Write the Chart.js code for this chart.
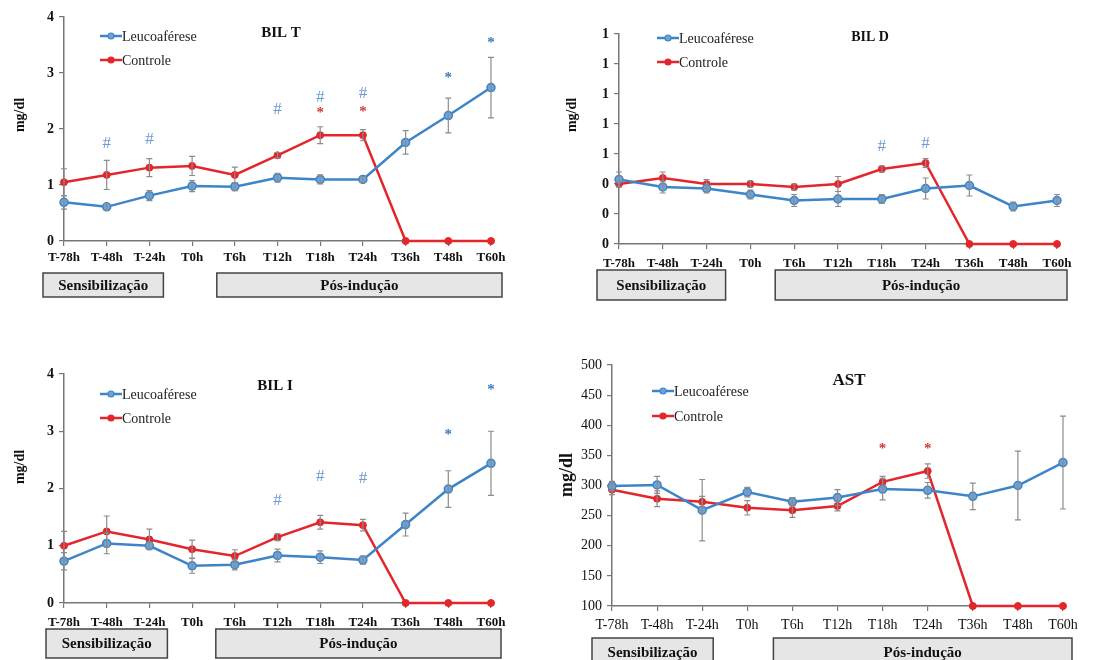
<!DOCTYPE html>
<html>
<head>
<meta charset="utf-8">
<script src="https://cdn.jsdelivr.net/npm/chart.js@4"></script>
<style>
  body { margin: 0; background: #fff; }
  #wrap { position: relative; width: 1110px; height: 660px; overflow: hidden; }
  canvas { position: absolute; }
</style>
</head>
<body>
<div id="wrap">
  <canvas id="bilT" width="555" height="310" style="left:0;top:0"></canvas>
  <canvas id="bilD" width="555" height="310" style="left:555px;top:0"></canvas>
  <canvas id="bilI" width="555" height="330" style="left:0;top:330px"></canvas>
  <canvas id="ast" width="555" height="330" style="left:555px;top:330px"></canvas>
</div>
<script>
const timepoints = ["T-78h", "T-48h", "T-24h", "T0h", "T6h", "T12h", "T18h", "T24h", "T36h", "T48h", "T60h"];
const phaseLabels = ["Sensibilização", "Pós-indução"];

// BIL T
const bilTLeuco = [0.69, 0.61, 0.81, 0.98, 0.97, 1.13, 1.10, 1.10, 1.76, 2.24, 2.74];
const bilTLeucoErr = [0.12, 0.06, 0.09, 0.10, 0.07, 0.08, 0.08, 0.05, 0.21, 0.31, 0.54];
const bilTCtrl = [1.05, 1.18, 1.31, 1.34, 1.18, 1.53, 1.89, 1.89, 0, 0, 0];
const bilTCtrlErr = [0.24, 0.26, 0.16, 0.17, 0.14, 0.05, 0.15, 0.10, 0, 0, 0];
const bilTHash = [null, 1.74, 1.81, null, null, 2.34, 2.57, 2.63, null, null, null];
const bilTRedStar = [null, null, null, null, null, null, 2.28, 2.31, null, null, null];
const bilTBlueStar = [null, null, null, null, null, null, null, null, null, 2.9, 3.53];

// BIL D
const bilDLeuco = [0.43, 0.38, 0.37, 0.33, 0.29, 0.30, 0.30, 0.37, 0.39, 0.25, 0.29];
const bilDLeucoErr = [0.05, 0.04, 0.03, 0.03, 0.04, 0.05, 0.03, 0.07, 0.07, 0.03, 0.04];
const bilDCtrl = [0.40, 0.44, 0.40, 0.40, 0.38, 0.40, 0.50, 0.54, 0, 0, 0];
const bilDCtrlErr = [0.02, 0.04, 0.03, 0.02, 0.02, 0.05, 0.02, 0.03, 0, 0, 0];
const bilDHash = [null, null, null, null, null, null, 0.65, 0.67, null, null, null];

// BIL I
const bilILeuco = [0.73, 1.04, 1.00, 0.65, 0.67, 0.83, 0.80, 0.75, 1.37, 1.99, 2.44];
const bilILeucoErr = [0.15, 0.18, 0.06, 0.13, 0.09, 0.11, 0.11, 0.07, 0.20, 0.32, 0.56];
const bilICtrl = [1.00, 1.25, 1.11, 0.94, 0.82, 1.15, 1.41, 1.36, 0, 0, 0];
const bilICtrlErr = [0.25, 0.27, 0.18, 0.16, 0.11, 0.06, 0.12, 0.10, 0, 0, 0];
const bilIHash = [null, null, null, null, null, 1.79, 2.21, 2.17, null, null, null];
const bilIBlueStar = [null, null, null, null, null, null, null, null, null, 2.94, 3.71];

// AST
const astLeuco = [299, 301, 259, 289, 273, 280, 294, 292, 282, 300, 338];
const astLeucoErr = [8, 14, 51, 8, 7, 13, 18, 13, 22, 57, 77];
const astCtrl = [293, 278, 273, 263, 259, 266, 306, 324, 100, 100, 100];
const astCtrlErr = [8, 13, 9, 12, 12, 8, 9, 12, 0, 0, 0];
const astRedStar = [null, null, null, null, null, null, 361, 361, null, null, null];

const BLUE = "#3d85c6";
const RED = "#e3262b";
const SERIF = "'Liberation Serif', 'DejaVu Serif', serif";

// error bars, #/* marks, title, legend, phase boxes
const panelDecor = {
  id: "panelDecor",
  afterDatasetsDraw(chart, args, o) {
    const ctx = chart.ctx;
    const x = chart.scales.x, y = chart.scales.y;
    ctx.save();
    ctx.strokeStyle = "#8c8c8c";
    ctx.lineWidth = 1.2;
    chart.data.datasets.forEach(ds => {
      ds.data.forEach((v, i) => {
        const e = ds.errors[i];
        if (!e) return;
        const px = x.getPixelForValue(i);
        const t = y.getPixelForValue(v + e);
        const b = y.getPixelForValue(v - e);
        ctx.beginPath();
        ctx.moveTo(px, t); ctx.lineTo(px, b);
        ctx.moveTo(px - 3, t); ctx.lineTo(px + 3, t);
        ctx.moveTo(px - 3, b); ctx.lineTo(px + 3, b);
        ctx.stroke();
      });
    });
    ctx.restore();
  },
  afterDraw(chart, args, o) {
    const ctx = chart.ctx;
    const x = chart.scales.x, y = chart.scales.y;
    const area = chart.chartArea;
    ctx.save();
    ctx.textAlign = "center";
    ctx.textBaseline = "middle";

    // significance marks
    o.marks.forEach(m => {
      ctx.fillStyle = m.color;
      ctx.font = m.font;
      m.vals.forEach((v, i) => {
        if (v === null) return;
        ctx.fillText(m.text, x.getPixelForValue(i), y.getPixelForValue(v));
      });
    });

    // title
    ctx.fillStyle = "#111";
    ctx.font = "bold " + o.titleSize + "px " + SERIF;
    ctx.fillText(o.title, o.titleX, o.titleY);

    // y label
    ctx.save();
    ctx.translate(o.ylabelX, o.ylabelY);
    ctx.rotate(-Math.PI / 2);
    ctx.font = "bold " + o.ylabelSize + "px " + SERIF;
    ctx.fillText("mg/dl", 0, 0);
    ctx.restore();

    // legend
    chart.data.datasets.forEach((ds, k) => {
      const ly = o.legendY + k * o.legendGap;
      const lx = o.legendX;
      ctx.strokeStyle = ds.borderColor;
      ctx.lineWidth = 2.5;
      ctx.beginPath();
      ctx.moveTo(lx, ly); ctx.lineTo(lx + 22, ly);
      ctx.stroke();
      ctx.beginPath();
      ctx.arc(lx + 11, ly, 3, 0, Math.PI * 2);
      ctx.fillStyle = ds.pointBackgroundColor;
      ctx.fill();
      ctx.lineWidth = 1.2;
      ctx.stroke();
      ctx.fillStyle = "#222";
      ctx.font = "14px " + SERIF;
      ctx.textAlign = "left";
      ctx.fillText(ds.label, lx + 22, ly + 1);
      ctx.textAlign = "center";
    });

    // phase boxes
    const boxes = [
      [x.getPixelForValue(0) - o.box[0], x.getPixelForValue(2) + o.box[1]],
      [x.getPixelForValue(4) - o.box[2], x.getPixelForValue(10) + o.box[3]]
    ];
    boxes.forEach((bx, k) => {
      const top = area.bottom + o.boxTop;
      const h = o.boxH;
      ctx.fillStyle = "#e6e6e6";
      ctx.fillRect(bx[0], top, bx[1] - bx[0], h);
      ctx.strokeStyle = "#444";
      ctx.lineWidth = 1.5;
      ctx.strokeRect(bx[0], top, bx[1] - bx[0], h);
      ctx.fillStyle = "#111";
      ctx.font = "bold 15px " + SERIF;
      ctx.fillText(phaseLabels[k], (bx[0] + bx[1]) / 2, top + h / 2 + 1);
    });
    ctx.restore();
  }
};

function makePanel(id, cfg) {
  const cv = document.getElementById(id);
  const W = cv.width, H = cv.height;
  const a = cfg.area;
  return new Chart(cv, {
    type: "line",
    data: {
      labels: timepoints,
      datasets: [
        {
          label: "Leucoaférese",
          data: cfg.leuco,
          errors: cfg.leucoErr,
          borderColor: BLUE,
          backgroundColor: BLUE,
          pointBackgroundColor: "#6fa3d6",
          pointBorderColor: BLUE,
          pointRadius: 4,
          pointBorderWidth: 1.5,
          borderWidth: 2.5,
          tension: 0,
          clip: false
        },
        {
          label: "Controle",
          data: cfg.ctrl,
          errors: cfg.ctrlErr,
          borderColor: RED,
          backgroundColor: RED,
          pointBackgroundColor: RED,
          pointBorderColor: RED,
          pointRadius: 3.5,
          pointBorderWidth: 1,
          borderWidth: 2.5,
          tension: 0,
          clip: false
        }
      ]
    },
    options: {
      responsive: false,
      animation: false,
      events: [],
      layout: { padding: { left: 0, top: a.top, right: W - a.right, bottom: 0 } },
      plugins: {
        legend: { display: false },
        tooltip: { enabled: false },
        panelDecor: cfg.decor
      },
      scales: {
        x: {
          type: "category",
          offset: false,
          afterFit: s => { s.height = H - a.bottom; },
          grid: { drawOnChartArea: false, tickLength: 5, color: "#777", lineWidth: 1.2 },
          border: { color: "#777", width: 1.5 },
          ticks: {
            autoSkip: false,
            maxRotation: 0,
            padding: cfg.xPad,
            color: "#111",
            font: { family: SERIF, size: cfg.xFontSize, weight: cfg.xWeight }
          }
        },
        y: {
          min: cfg.yMin,
          max: cfg.yMax,
          afterFit: s => { s.width = a.left; },
          grid: { drawOnChartArea: false, tickLength: 5, color: "#777", lineWidth: 1.2 },
          border: { color: "#777", width: 1.5 },
          ticks: {
            stepSize: cfg.yStep,
            padding: 5,
            color: "#111",
            font: { family: SERIF, size: cfg.yFontSize, weight: cfg.yWeight },
            callback: cfg.yFormat
          }
        }
      }
    },
    plugins: [panelDecor]
  });
}

const hashFont = "17px " + SERIF;
const starFont = "bold 15px " + SERIF;

makePanel("bilT", {
  area: { left: 64, right: 491, top: 17, bottom: 241 },
  leuco: bilTLeuco, leucoErr: bilTLeucoErr, ctrl: bilTCtrl, ctrlErr: bilTCtrlErr,
  yMin: 0, yMax: 4, yStep: 1, yFormat: v => v,
  xFontSize: 13, xWeight: "bold", xPad: 4, yFontSize: 14, yWeight: "bold",
  decor: {
    title: "BIL T", titleX: 281, titleY: 33, titleSize: 15,
    ylabelX: 20, ylabelY: 115, ylabelSize: 14,
    legendX: 100, legendY: 36, legendGap: 24,
    box: [21, 14, 18, 11], boxTop: 32, boxH: 24,
    marks: [
      { vals: bilTHash, text: "#", color: "#6b9bd1", font: hashFont },
      { vals: bilTRedStar, text: "*", color: "#d03a3a", font: starFont },
      { vals: bilTBlueStar, text: "*", color: "#3a7ab8", font: starFont }
    ]
  }
});

makePanel("bilD", {
  area: { left: 64, right: 502, top: 34, bottom: 244 },
  leuco: bilDLeuco, leucoErr: bilDLeucoErr, ctrl: bilDCtrl, ctrlErr: bilDCtrlErr,
  yMin: 0, yMax: 1.4, yStep: 0.2, yFormat: v => v.toFixed(0),
  xFontSize: 13, xWeight: "bold", xPad: 7, yFontSize: 14, yWeight: "bold",
  decor: {
    title: "BIL D", titleX: 315, titleY: 37, titleSize: 14,
    ylabelX: 17, ylabelY: 115, ylabelSize: 14,
    legendX: 102, legendY: 38, legendGap: 24,
    box: [22, 19, 19, 10], boxTop: 26, boxH: 30,
    marks: [
      { vals: bilDHash, text: "#", color: "#6b9bd1", font: hashFont }
    ]
  }
});

makePanel("bilI", {
  area: { left: 64, right: 491, top: 44, bottom: 273 },
  leuco: bilILeuco, leucoErr: bilILeucoErr, ctrl: bilICtrl, ctrlErr: bilICtrlErr,
  yMin: 0, yMax: 4, yStep: 1, yFormat: v => v,
  xFontSize: 13, xWeight: "bold", xPad: 7, yFontSize: 14, yWeight: "bold",
  decor: {
    title: "BIL I", titleX: 275, titleY: 56, titleSize: 15,
    ylabelX: 20, ylabelY: 137, ylabelSize: 14,
    legendX: 100, legendY: 64, legendGap: 24,
    box: [18, 18, 19, 10], boxTop: 26, boxH: 29,
    marks: [
      { vals: bilIHash, text: "#", color: "#6b9bd1", font: hashFont },
      { vals: bilIBlueStar, text: "*", color: "#3a7ab8", font: starFont }
    ]
  }
});

makePanel("ast", {
  area: { left: 57, right: 508, top: 35, bottom: 276 },
  leuco: astLeuco, leucoErr: astLeucoErr, ctrl: astCtrl, ctrlErr: astCtrlErr,
  yMin: 100, yMax: 500, yStep: 50, yFormat: v => v,
  xFontSize: 14, xWeight: "normal", xPad: 6, yFontSize: 14, yWeight: "normal",
  decor: {
    title: "AST", titleX: 294, titleY: 51, titleSize: 17,
    ylabelX: 12, ylabelY: 145, ylabelSize: 18,
    legendX: 97, legendY: 61, legendGap: 25,
    box: [20, 11, 19, 9], boxTop: 32, boxH: 28,
    marks: [
      { vals: astRedStar, text: "*", color: "#d03a3a", font: starFont }
    ]
  }
});
</script>
</body>
</html>
